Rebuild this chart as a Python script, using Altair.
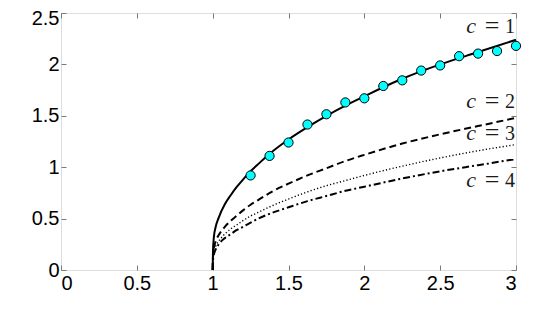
import altair as alt
import pandas as pd

# ---- data ----
x_curve = [1.0, 1.002, 1.008, 1.02, 1.04, 1.08, 1.12, 1.16, 1.2, 1.25, 1.3,
           1.4, 1.5, 1.625, 1.75, 1.875, 2.0, 2.25, 2.5, 2.75, 3.0]
c1 = [0, 0.18, 0.32, 0.42, 0.51, 0.64, 0.73, 0.81, 0.88, 0.96, 1.03,
      1.16, 1.27, 1.39, 1.50, 1.60, 1.69, 1.86, 2.00, 2.12, 2.24]
c2 = [0, 0.12, 0.21, 0.28, 0.34, 0.42, 0.48, 0.53, 0.58, 0.635, 0.68,
      0.77, 0.84, 0.92, 0.99, 1.06, 1.12, 1.23, 1.32, 1.40, 1.48]
c3 = [0, 0.10, 0.17, 0.23, 0.28, 0.35, 0.40, 0.44, 0.48, 0.525, 0.56,
      0.63, 0.69, 0.76, 0.82, 0.87, 0.92, 1.01, 1.09, 1.16, 1.22]
c4 = [0, 0.09, 0.15, 0.20, 0.25, 0.31, 0.35, 0.39, 0.42, 0.46, 0.50,
      0.56, 0.61, 0.67, 0.72, 0.77, 0.81, 0.89, 0.96, 1.02, 1.08]

x_pts = [1.25, 1.375, 1.5, 1.625, 1.75, 1.875, 2.0, 2.125, 2.25, 2.375,
         2.5, 2.625, 2.75, 2.875, 3.0]
y_pts = [0.92, 1.11, 1.24, 1.415, 1.515, 1.63, 1.67, 1.79, 1.845, 1.94,
         1.99, 2.08, 2.105, 2.13, 2.18]

label_names = ["1", "2", "3", "4"]
label_x = [3.0, 3.0, 3.0, 3.0]
label_y = [2.305, 1.573, 1.265, 0.81]

x_ticks = [0, 0.5, 1, 1.5, 2, 2.5, 3]
y_ticks = [0, 0.5, 1, 1.5, 2]
y_top_tick = [2.5]

# ---- styles ----
GRAY = "#7a7a7a"
styles = {
    "c1": dict(strokeWidth=2.0),
    "c2": dict(strokeWidth=2.0, strokeDash=[7, 4]),
    "c3": dict(strokeWidth=1.4, strokeDash=[1.2, 2.2]),
    "c4": dict(strokeWidth=2.0, strokeDash=[7, 3, 2, 3]),
}

xs = alt.Scale(domain=[0, 3], nice=False, zero=False)
ys = alt.Scale(domain=[0, 2.5], nice=False, zero=False)

common_axis = dict(title=None, grid=False, domain=False, tickSize=5, offset=-5,
                   tickColor=GRAY, tickWidth=1, labelFont="Liberation Sans",
                   labelFontSize=20, labelColor="black",
                   labelExpr="'' + datum.value")

ax_bottom = alt.Axis(orient="bottom", values=x_ticks, labelPadding=3, **common_axis)
ax_left = alt.Axis(orient="left", values=y_ticks, labelPadding=2, **common_axis)
ax_left_top = alt.Axis(orient="left", values=y_top_tick, labelPadding=2,
                       labelOffset=5, **common_axis)
ax_top = alt.Axis(orient="top", values=x_ticks, labels=False, **common_axis)
ax_right = alt.Axis(orient="right", values=y_ticks + y_top_tick, labels=False, **common_axis)

curves = pd.DataFrame({"x": x_curve, "c1": c1, "c2": c2, "c3": c3, "c4": c4})

layers = []
for i, key in enumerate(["c1", "c2", "c3", "c4"]):
    if i == 0:
        xenc = alt.X("x:Q", scale=xs, axis=ax_bottom)
        yenc = alt.Y(f"{key}:Q", scale=ys, axis=ax_left)
    else:
        xenc = alt.X("x:Q", scale=xs, axis=None)
        yenc = alt.Y(f"{key}:Q", scale=ys, axis=None)
    layers.append(
        alt.Chart(curves).mark_line(color="black", interpolate="monotone",
                                    **styles[key]).encode(x=xenc, y=yenc)
    )

pts = pd.DataFrame({"x": x_pts, "y": y_pts})
layers.append(
    alt.Chart(pts).mark_point(shape="circle", filled=True, fill="#00FFFF",
                              stroke="black", strokeWidth=1, size=85, opacity=1)
    .encode(x=alt.X("x:Q", scale=xs, axis=ax_top),
            y=alt.Y("y:Q", scale=ys, axis=ax_right))
)

labels = pd.DataFrame({"n": label_names, "x": label_x, "y": label_y})
lx = alt.X("x:Q", scale=xs, axis=None)
ly = alt.Y("y:Q", scale=ys, axis=None)
ly_axis = alt.Y("y:Q", scale=ys, axis=ax_left_top)
txt = dict(font="Liberation Serif", color="#1a1a1a", baseline="alphabetic")
layers.append(alt.Chart(labels).mark_text(align="right", dx=-1, fontSize=20, **txt)
              .encode(x=lx, y=ly, text="n:N"))
layers.append(alt.Chart(labels).mark_text(align="center", dx=-24, fontSize=26, dy=1, **txt)
              .encode(x=lx, y=ly_axis, text=alt.value("=")))
layers.append(alt.Chart(labels).mark_text(align="center", dx=-45, fontSize=22,
                                          fontStyle="italic", **txt)
              .encode(x=lx, y=ly, text=alt.value("c")))

chart = (
    alt.layer(*layers)
    .resolve_axis(x="independent", y="independent")
    .properties(width=455, height=257,
                autosize=alt.AutoSizeParams(type="none"),
                padding={"left": 53, "top": 5, "right": 16, "bottom": 35})
    .configure_view(stroke=GRAY, strokeWidth=1)
    .configure(background="white")
)

chart.save("out.html", embed_options={"renderer": "svg", "actions": False})
